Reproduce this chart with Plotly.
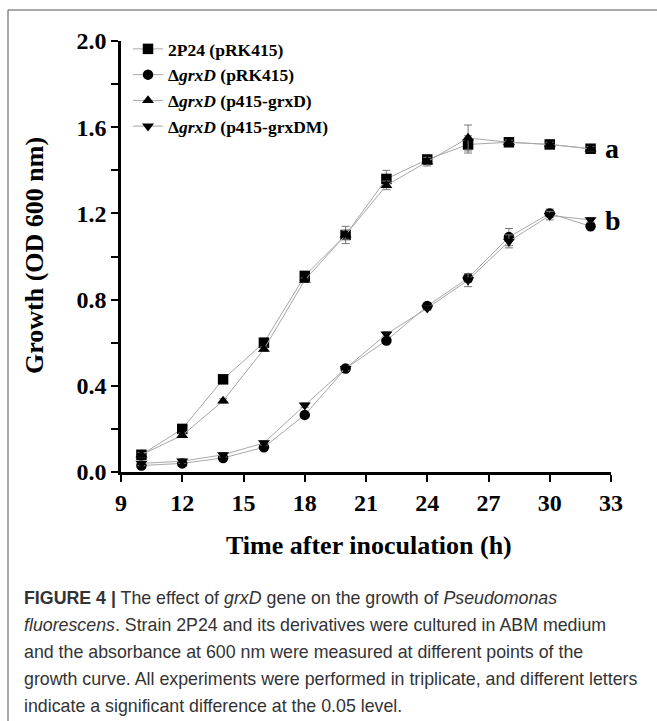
import plotly.graph_objects as go

# ---- data ----
time_h = [10, 12, 14, 16, 18, 20, 22, 24, 26, 28, 30, 32]
wt_pRK415 = [0.08, 0.20, 0.43, 0.60, 0.91, 1.10, 1.36, 1.45, 1.52, 1.53, 1.52, 1.50]
wt_err = [0.01, 0.02, 0.015, 0.02, 0.02, 0.04, 0.04, 0.02, 0.04, 0.01, 0.01, 0.01]
grxD_pRK415 = [0.03, 0.04, 0.065, 0.115, 0.265, 0.48, 0.61, 0.77, 0.90, 1.09, 1.20, 1.14]
grxD_pRK415_err = [0.01, 0.01, 0.01, 0.01, 0.01, 0.01, 0.01, 0.01, 0.02, 0.04, 0.02, 0.01]
grxD_p415 = [0.08, 0.17, 0.33, 0.57, 0.89, 1.10, 1.33, 1.44, 1.55, 1.53, 1.52, 1.50]
grxD_p415_err = [0.01, 0.01, 0.01, 0.01, 0.01, 0.02, 0.02, 0.02, 0.06, 0.01, 0.01, 0.01]
grxD_p415M = [0.04, 0.05, 0.08, 0.135, 0.31, 0.48, 0.64, 0.76, 0.89, 1.07, 1.19, 1.17]
grxD_p415M_err = [0.01, 0.01, 0.01, 0.01, 0.01, 0.01, 0.01, 0.01, 0.03, 0.03, 0.02, 0.01]

series_names = [
    "2P24 (pRK415)",
    "Δ<i>grxD</i> (pRK415)",
    "Δ<i>grxD</i> (p415-grxD)",
    "Δ<i>grxD</i> (p415-grxDM)",
]
x_ticks = [9, 12, 15, 18, 21, 24, 27, 30, 33]
y_ticks = [0.0, 0.4, 0.8, 1.2, 1.6, 2.0]
caption_lines = [
    "<b>FIGURE 4 |</b> The effect of <i>grxD</i> gene on the growth of <i>Pseudomonas</i>",
    "<i>fluorescens</i>. Strain 2P24 and its derivatives were cultured in ABM medium",
    "and the absorbance at 600 nm were measured at different points of the",
    "growth curve. All experiments were performed in triplicate, and different letters",
    "indicate a significant difference at the 0.05 level.",
]

# ---- layout geometry (pixels) ----
W, H = 657, 721
L, R, T, B = 121, 611, 41, 472
PW, PH = R - L, B - T

def px(x):
    return (x - L) / PW

def py(y):
    return (B - y) / PH

SERIF = "Liberation Serif"
SANS = "Liberation Sans"

fig = go.Figure()
symbols = ["square", "circle", "triangle-up", "triangle-down"]
ys = [wt_pRK415, grxD_pRK415, grxD_p415, grxD_p415M]
errs = [wt_err, grxD_pRK415_err, grxD_p415_err, grxD_p415M_err]
for name, sym, yv, ev in zip(series_names, symbols, ys, errs):
    fig.add_trace(go.Scatter(
        x=time_h, y=yv, name=name, mode="lines+markers",
        line=dict(color="#a8a8a8", width=1),
        marker=dict(symbol=sym, size=10.5, color="black"),
        error_y=dict(type="data", array=ev, visible=True, color="#777777",
                     thickness=1, width=4),
        cliponaxis=False,
    ))

fig.add_annotation(x=32.6, y=1.50, xref="x", yref="y", text="<b>a</b>",
                   showarrow=False, xanchor="left", yanchor="middle",
                   font=dict(family=SERIF, size=28, color="black"))
fig.add_annotation(x=32.6, y=1.165, xref="x", yref="y", text="<b>b</b>",
                   showarrow=False, xanchor="left", yanchor="middle",
                   font=dict(family=SERIF, size=28, color="black"))

# axis titles
fig.add_annotation(x=px(34), y=py(256), xref="paper", yref="paper",
                   xanchor="center", yanchor="middle",
                   text="<b>Growth (OD 600 nm)</b>", textangle=-90,
                   showarrow=False, font=dict(family=SERIF, size=26, color="black"))
fig.add_annotation(x=px(369), y=py(545), xref="paper", yref="paper",
                   xanchor="center", yanchor="middle",
                   text="<b>Time after inoculation (h)</b>",
                   showarrow=False, font=dict(family=SERIF, size=26, color="black"))

# caption
cap_y = [598, 625, 652, 679, 706]
for txt, yy in zip(caption_lines, cap_y):
    fig.add_annotation(x=px(22), y=py(yy), xref="paper", yref="paper",
                       text=txt, showarrow=False, xanchor="left", yanchor="middle",
                       font=dict(family=SANS, size=17.8, color="#333333"))

# frame (left and top)
fig.add_shape(type="line", xref="paper", yref="paper",
              x0=px(8), x1=px(8), y0=py(10), y1=py(721),
              line=dict(color="#555555", width=1))
fig.add_shape(type="line", xref="paper", yref="paper",
              x0=px(8), x1=px(657), y0=py(10), y1=py(10),
              line=dict(color="#555555", width=1))

fig.update_layout(
    width=W, height=H,
    margin=dict(l=L, r=W - R, t=T, b=H - B, autoexpand=False),
    paper_bgcolor="white", plot_bgcolor="white",
    showlegend=True,
    legend=dict(x=px(128), y=py(31), xanchor="left", yanchor="top",
                font=dict(family=SERIF, size=17.5, color="black", weight="bold"),
                bgcolor="rgba(0,0,0,0)", tracegroupgap=0, itemwidth=30),
)
fig.update_xaxes(
    range=[9, 33], tickvals=x_ticks, ticktext=[str(v) for v in x_ticks],
    showgrid=False, zeroline=False, showline=True, linecolor="black", linewidth=2.5,
    ticks="outside", ticklen=7, tickwidth=2, tickcolor="black",
    tickfont=dict(family=SERIF, size=24, color="black", weight="bold"),
)
fig.update_yaxes(
    range=[0, 2.0], tickvals=y_ticks, ticktext=[f"{v:.1f}" for v in y_ticks],
    showgrid=False, zeroline=False, showline=True, linecolor="black", linewidth=2.5,
    ticks="outside", ticklen=7, tickwidth=2, tickcolor="black",
    minor=dict(tickvals=[0.2, 0.6, 1.0, 1.4, 1.8], ticks="outside", ticklen=7,
               tickwidth=2, tickcolor="black"),
    tickfont=dict(family=SERIF, size=24, color="black", weight="bold"),
)

fig.write_html("out.html")
